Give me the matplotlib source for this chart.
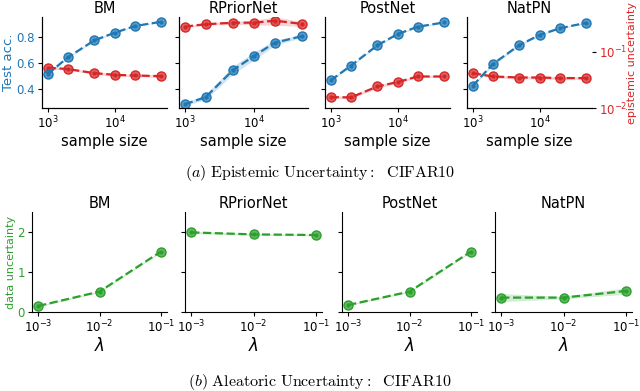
import numpy as np
import matplotlib.pyplot as plt

plt.rcParams['mathtext.fontset'] = 'dejavusans'

models = ['BM', 'RPriorNet', 'PostNet', 'NatPN']
sample_sizes = [1000, 2000, 5000, 10000, 20000, 50000]
lambdas = [1e-3, 1e-2, 1e-1]

# test accuracy (mean, std) per model
acc = {
    'BM':        [0.516, 0.643, 0.773, 0.830, 0.881, 0.914],
    'RPriorNet': [0.286, 0.341, 0.547, 0.653, 0.754, 0.805],
    'PostNet':   [0.468, 0.580, 0.735, 0.820, 0.876, 0.909],
    'NatPN':     [0.427, 0.592, 0.737, 0.813, 0.864, 0.906],
}
acc_std = {
    'BM':        [0.006, 0.006, 0.005, 0.005, 0.004, 0.004],
    'RPriorNet': [0.010, 0.020, 0.030, 0.030, 0.020, 0.010],
    'PostNet':   [0.008, 0.008, 0.006, 0.005, 0.005, 0.004],
    'NatPN':     [0.008, 0.010, 0.008, 0.006, 0.005, 0.004],
}
# epistemic uncertainty (mean, std)
epi = {
    'BM':        [0.052, 0.049, 0.0415, 0.0387, 0.0377, 0.0367],
    'RPriorNet': [0.277, 0.305, 0.325, 0.325, 0.353, 0.309],
    'PostNet':   [0.0156, 0.0154, 0.0241, 0.0288, 0.0362, 0.0362],
    'NatPN':     [0.0415, 0.0362, 0.0347, 0.0347, 0.0339, 0.0339],
}
epi_std = {
    'BM':        [0.003, 0.002, 0.002, 0.002, 0.002, 0.002],
    'RPriorNet': [0.010, 0.015, 0.020, 0.030, 0.060, 0.030],
    'PostNet':   [0.0008, 0.0008, 0.0015, 0.0015, 0.0015, 0.0015],
    'NatPN':     [0.002, 0.002, 0.002, 0.002, 0.002, 0.002],
}
# data uncertainty vs lambda
alea = {
    'BM':        [0.15, 0.51, 1.51],
    'RPriorNet': [1.99, 1.94, 1.925],
    'PostNet':   [0.175, 0.51, 1.51],
    'NatPN':     [0.36, 0.36, 0.525],
}
alea_std = {
    'BM':        [0.02, 0.02, 0.02],
    'RPriorNet': [0.03, 0.02, 0.02],
    'PostNet':   [0.02, 0.02, 0.02],
    'NatPN':     [0.10, 0.03, 0.08],
}

blue, red, green = '#1f77b4', '#d62728', '#2ca02c'
H = 391.0
W = 640.0
top_x = [(42, 167), (179, 308), (325, 450), (467, 592)]
bot_x = [(32, 167), (185, 322), (342, 477), (495, 632)]


def draw(ax, x, y, s, c):
    y = np.array(y)
    s = np.array(s)
    ax.fill_between(x, y - s, y + s, color=c, alpha=0.2, lw=0)
    ax.plot(x, y, ls='--', color=c, lw=1.6, marker='o', ms=6.5,
            mfc=c + 'bb', mec=c, mew=1.0)
    ax.plot(x, y, ls='none', color=c, marker='o', ms=2)


fig = plt.figure(figsize=(6.4, 3.91), dpi=100)

for i, m in enumerate(models):
    x0, x1 = top_x[i]
    ax = fig.add_axes([x0 / W, 1 - 108 / H, (x1 - x0) / W, (108 - 17) / H])
    tw = ax.twinx()
    draw(tw, sample_sizes, epi[m], epi_std[m], red)
    draw(ax, sample_sizes, acc[m], acc_std[m], blue)
    ax.set_zorder(tw.get_zorder() + 1)
    ax.patch.set_visible(False)
    ax.set_xscale('log')
    ax.set_ylim(0.258, 0.95)
    ax.set_yticks([0.4, 0.6, 0.8])
    tw.set_yscale('log')
    tw.set_ylim(0.01, 0.41)
    tw.minorticks_off()
    tw.set_yticks([0.01, 0.1])
    for a in (ax, tw):
        a.spines['top'].set_visible(False)
        a.spines['right'].set_visible(False)
    ax.set_title(m, fontsize=10.5, pad=3)
    ax.set_xlabel('sample size', fontsize=10.5, labelpad=2)
    ax.tick_params(labelsize=8.5, pad=2, length=3)
    ax.xaxis.set_minor_locator(plt.NullLocator())
    if i == 0:
        ax.set_ylabel('Test acc.', color=blue, fontsize=9.5, labelpad=1)
        ax.tick_params(axis='y', labelcolor=blue)
    else:
        ax.tick_params(axis='y', labelleft=False)
    if i == 3:
        tw.tick_params(axis='y', labelcolor=red, labelsize=8.5, length=3, pad=2)
        tw.set_ylabel('epistemic uncertainty', color=red, fontsize=8, labelpad=0)
    else:
        tw.tick_params(axis='y', right=False, labelright=False)

for i, m in enumerate(models):
    x0, x1 = bot_x[i]
    ax = fig.add_axes([x0 / W, 1 - 312 / H, (x1 - x0) / W, (312 - 212) / H])
    draw(ax, lambdas, alea[m], alea_std[m], green)
    ax.set_xscale('log')
    ax.xaxis.set_minor_locator(plt.NullLocator())
    ax.set_xticks(lambdas)
    ax.set_ylim(0, 2.5)
    ax.set_yticks([0, 1, 2])
    ax.spines['top'].set_visible(False)
    ax.spines['right'].set_visible(False)
    ax.set_title(m, fontsize=10.5, pad=3)
    ax.set_xlabel(r'$\lambda$', fontsize=12, labelpad=1)
    ax.tick_params(labelsize=8.5, pad=2, length=3)
    if i == 0:
        ax.set_ylabel('data uncertainty', color=green, fontsize=8, labelpad=1)
        ax.tick_params(axis='y', labelcolor=green)
    else:
        ax.tick_params(axis='y', labelleft=False)

cap_kw = dict(ha='center', va='center', fontsize=11.5, math_fontfamily='cm')
fig.text(0.5, 1 - 173 / H,
         r'$\mathit{(a)}\ \mathrm{Epistemic\ Uncertainty{:}\ \ CIFAR10}$', **cap_kw)
fig.text(0.5, 1 - 382 / H,
         r'$\mathit{(b)}\ \mathrm{Aleatoric\ Uncertainty{:}\ \ CIFAR10}$', **cap_kw)

fig.savefig('out.png', dpi=100)
